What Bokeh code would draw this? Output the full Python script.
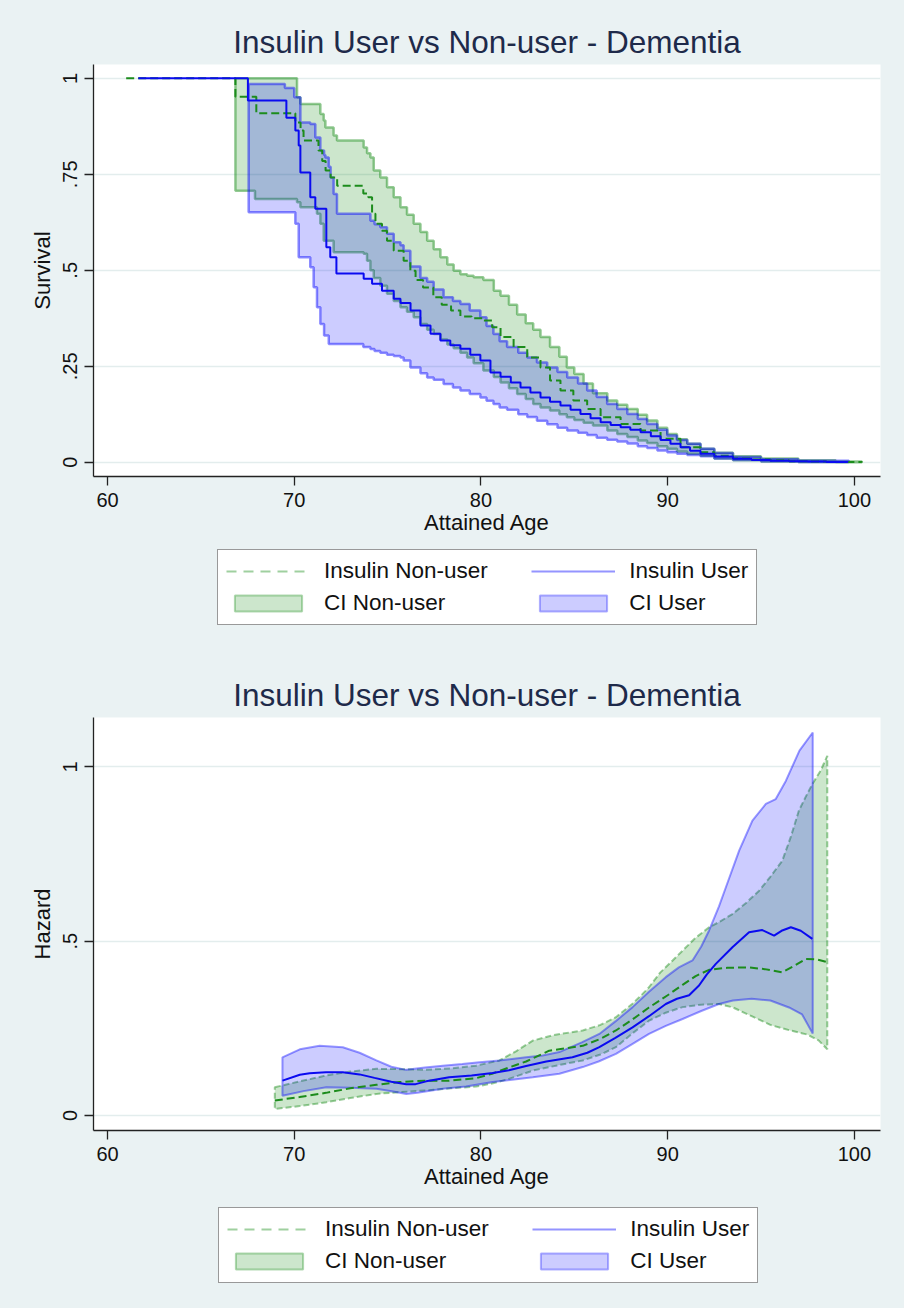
import math
from bokeh.plotting import figure
from bokeh.models import Range1d, FixedTicker, Legend, LegendItem
from bokeh.layouts import column
from bokeh.embed import file_html
from bokeh.resources import INLINE

# ---------------- Data: Kaplan-Meier survival (top panel) ----------------
km_user_age = [61.65, 67.52, 69.58, 70.06, 70.24, 70.33, 70.86, 71.13, 71.72, 71.93, 72.26,
               73.72, 74.17, 74.7, 75.33, 75.69, 76.23, 76.76, 77.3, 77.83, 78.36, 78.9,
               79.43, 79.97, 80.51, 81.05, 81.6, 82.12, 82.65, 83.19, 83.7, 84.26, 84.8,
               85.33, 85.87, 86.41, 86.95, 87.48, 88.0, 88.55, 89.1, 89.62, 90.15, 90.69,
               91.2, 91.76, 92.5, 93.5, 94.5, 95.5, 96.5, 97.5, 98.5, 99.65]
km_user_surv = [1.0, 0.942, 0.897, 0.864, 0.825, 0.755, 0.69, 0.66, 0.56, 0.534, 0.492,
                0.478, 0.465, 0.447, 0.426, 0.415, 0.395, 0.356, 0.335, 0.317, 0.305, 0.296,
                0.28, 0.265, 0.234, 0.223, 0.208, 0.195, 0.182, 0.169, 0.158, 0.148, 0.137,
                0.126, 0.115, 0.104, 0.097, 0.091, 0.085, 0.078, 0.068, 0.058, 0.048, 0.039,
                0.03, 0.022, 0.015, 0.009, 0.006, 0.004, 0.003, 0.002, 0.001, 0.0]

km_non_age = [61.0, 66.85, 67.97, 70.06, 70.34, 70.5, 71.3, 71.5, 71.68, 71.95, 72.3,
              73.7, 73.97, 74.17, 74.35, 74.7, 74.97, 75.33, 75.86, 76.22, 76.5, 76.9,
              77.45, 77.9, 78.4, 78.9, 79.5, 80.1, 80.6, 81.05, 81.75, 82.48, 83.19, 83.7,
              84.26, 84.95, 85.69, 86.41, 87.48, 88.55, 89.62, 90.69, 91.76, 92.5, 93.5,
              94.5, 95.5, 96.5, 97.5, 98.5, 99.5, 100.4]
km_non_surv = [1.0, 0.952, 0.909, 0.885, 0.864, 0.838, 0.812, 0.785, 0.76, 0.742, 0.72,
               0.70, 0.69, 0.647, 0.621, 0.603, 0.577, 0.551, 0.525, 0.499, 0.475, 0.455,
               0.43, 0.41, 0.395, 0.38, 0.375, 0.369, 0.352, 0.326, 0.30, 0.273, 0.247, 0.213,
               0.187, 0.161, 0.139, 0.117, 0.10, 0.083, 0.061, 0.039, 0.026, 0.017, 0.01,
               0.007, 0.005, 0.003, 0.002, 0.001, 0.0005, 0.0]

ci_non_age = [66.85, 67.9, 70.15, 70.33, 71.22, 71.4, 71.58, 71.67, 72.11, 72.29, 73.72,
              73.9, 74.08, 74.26, 74.61, 74.97, 75.33, 75.69, 76.04, 76.4, 76.76, 77.12,
              77.47, 77.83, 78.2, 78.54, 78.9, 79.26, 79.61, 80.13, 80.69, 81.05, 81.5,
              81.94, 82.4, 82.8, 83.19, 83.7, 84.2, 84.6, 85.0, 85.5, 86.0, 86.77, 87.3,
              87.84, 88.4, 88.9, 89.45, 89.98, 90.5, 91.05, 91.76, 92.5, 93.5, 95.0, 97.0,
              99.0, 100.4]
ci_non_upper = [1.0, 1.0, 0.951, 0.933, 0.933, 0.907, 0.89, 0.872, 0.851, 0.838, 0.82,
                0.805, 0.794, 0.76, 0.742, 0.716, 0.69, 0.664, 0.645, 0.621, 0.600, 0.577,
                0.555, 0.534, 0.515, 0.499, 0.49, 0.486, 0.482, 0.475, 0.447, 0.434, 0.41,
                0.385, 0.362, 0.345, 0.326, 0.30, 0.275, 0.247, 0.23, 0.205, 0.18, 0.161,
                0.15, 0.139, 0.124, 0.109, 0.09, 0.074, 0.06, 0.048, 0.035, 0.025, 0.016,
                0.01, 0.005, 0.002, 0.001]
ci_non_lower = [0.707, 0.686, 0.677, 0.664, 0.647, 0.621, 0.577, 0.577, 0.547, 0.547, 0.543,
                0.525, 0.50, 0.48, 0.46, 0.439, 0.42, 0.404, 0.392, 0.378, 0.36, 0.345,
                0.334, 0.32, 0.307, 0.297, 0.285, 0.273, 0.258, 0.239, 0.222, 0.208, 0.193,
                0.178, 0.165, 0.152, 0.143, 0.135, 0.125, 0.117, 0.11, 0.103, 0.096, 0.083,
                0.074, 0.066, 0.057, 0.05, 0.042, 0.035, 0.028, 0.022, 0.017, 0.01, 0.005,
                0.002, 0.0005, 0.0, 0.0]

ci_user_age = [67.56, 69.5, 69.79, 70.0, 70.06, 70.24, 70.33, 70.86, 71.04, 71.13, 71.22,
               71.4, 71.6, 71.67, 71.85, 71.95, 72.11, 72.29, 73.7, 74.08, 74.3, 74.61,
               74.97, 75.33, 75.69, 75.86, 76.22, 76.76, 77.12, 77.47, 78.0, 78.5, 78.9,
               79.4, 79.97, 80.3, 80.67, 81.0, 81.4, 82.0, 82.48, 83.0, 83.55, 84.1, 84.62,
               85.2, 85.69, 86.2, 86.76, 87.3, 87.84, 88.4, 88.9, 89.45, 89.98, 90.5, 91.05,
               91.76, 92.5, 93.5, 95.0, 97.0, 99.7]
ci_user_upper = [0.985, 0.975, 0.975, 0.951, 0.951, 0.951, 0.885, 0.881, 0.881, 0.846, 0.846,
                 0.812, 0.80, 0.794, 0.77, 0.742, 0.699, 0.647, 0.647, 0.629, 0.62, 0.612,
                 0.595, 0.573, 0.565, 0.551, 0.51, 0.48, 0.47, 0.45, 0.43, 0.42, 0.412,
                 0.395, 0.378, 0.355, 0.334, 0.315, 0.30, 0.285, 0.273, 0.26, 0.247, 0.235,
                 0.221, 0.205, 0.187, 0.17, 0.152, 0.139, 0.126, 0.113, 0.10, 0.085, 0.07,
                 0.058, 0.048, 0.035, 0.024, 0.014, 0.008, 0.004, 0.001]
ci_user_lower = [0.651, 0.651, 0.651, 0.651, 0.621, 0.534, 0.534, 0.508, 0.456, 0.456, 0.404,
                 0.36, 0.33, 0.33, 0.308, 0.308, 0.308, 0.308, 0.30, 0.295, 0.29, 0.285,
                 0.28, 0.277, 0.273, 0.265, 0.247, 0.232, 0.221, 0.215, 0.204, 0.195, 0.187,
                 0.178, 0.169, 0.16, 0.152, 0.143, 0.137, 0.125, 0.118, 0.108, 0.099, 0.09,
                 0.083, 0.077, 0.071, 0.064, 0.059, 0.054, 0.049, 0.042, 0.037, 0.031, 0.026,
                 0.022, 0.019, 0.016, 0.01, 0.006, 0.003, 0.001, 0.0]

# ---------------- Data: smoothed hazard (bottom panel) ----------------
hz_non_age = [68.96, 70.29, 71.7, 73.0, 74.4, 75.64, 77.0, 78.3, 79.74, 80.6, 81.88, 82.42,
              83.66, 85.45, 86.4, 87.23, 88.1, 89.0, 90.0, 90.8, 91.5, 92.22, 93.2, 94.36,
              95.2, 96.14, 96.8, 97.39, 98.0, 98.55]
hz_non = [0.043, 0.053, 0.065, 0.078, 0.088, 0.096, 0.10, 0.10, 0.107, 0.12, 0.145, 0.155,
          0.186, 0.20, 0.22, 0.244, 0.275, 0.31, 0.345, 0.375, 0.40, 0.418, 0.424, 0.425,
          0.42, 0.411, 0.43, 0.449, 0.448, 0.44]

hz_user_age = [69.37, 70.3, 70.83, 71.7, 72.6, 73.5, 74.3, 75.2, 76.0, 76.5, 77.07, 78.3,
               79.5, 80.63, 81.5, 82.42, 83.5, 84.9, 85.7, 86.34, 87.2, 88.12, 89.0, 89.9,
               90.5, 91.15, 91.68, 92.1, 92.58, 93.47, 94.36, 95.07, 95.7, 96.1, 96.6, 97.13,
               97.75]
hz_user = [0.10, 0.117, 0.121, 0.124, 0.124, 0.118, 0.108, 0.097, 0.09, 0.09, 0.098, 0.11,
           0.115, 0.122, 0.13, 0.142, 0.155, 0.167, 0.18, 0.196, 0.223, 0.253, 0.285, 0.32,
           0.335, 0.345, 0.373, 0.405, 0.435, 0.483, 0.526, 0.532, 0.516, 0.53, 0.54, 0.53,
           0.507]

hzci_non_up_age = [68.96, 70.3, 71.72, 73.0, 74.4, 75.7, 77.07, 78.4, 79.74, 80.99, 81.9,
                   82.78, 84.0, 85.45, 86.4, 87.23, 88.1, 88.66, 89.0, 89.6, 90.27, 90.8,
                   91.5, 92.22, 92.75, 93.47, 94.2, 94.9, 95.5, 96.14, 96.6, 97.03, 97.4,
                   97.75, 98.2, 98.55]
hzci_non_up = [0.081, 0.098, 0.115, 0.126, 0.134, 0.133, 0.131, 0.135, 0.143, 0.158, 0.185,
               0.215, 0.232, 0.244, 0.26, 0.282, 0.32, 0.349, 0.368, 0.41, 0.445, 0.473,
               0.51, 0.54, 0.555, 0.578, 0.61, 0.645, 0.685, 0.731, 0.80, 0.875, 0.915,
               0.951, 0.99, 1.032]
hzci_non_lo_age = [68.96, 70.3, 71.72, 73.0, 74.4, 75.64, 77.07, 78.4, 79.74, 80.6, 81.5,
                   82.78, 84.2, 85.45, 86.4, 87.23, 88.1, 89.0, 89.9, 90.8, 91.8, 92.75,
                   93.5, 94.5, 95.5, 96.5, 97.5, 98.1, 98.55]
hzci_non_lo = [0.019, 0.027, 0.038, 0.05, 0.062, 0.067, 0.072, 0.078, 0.083, 0.092, 0.105,
               0.129, 0.145, 0.158, 0.175, 0.196, 0.235, 0.272, 0.295, 0.311, 0.318, 0.32,
               0.31, 0.285, 0.26, 0.245, 0.232, 0.215, 0.19]

hzci_user_up_age = [69.37, 70.3, 71.36, 72.6, 73.5, 74.4, 75.2, 76.0, 77.0, 77.96, 79.0,
                    79.92, 80.99, 82.42, 83.3, 84.2, 85.4, 86.34, 87.2, 88.12, 89.0, 89.9,
                    90.6, 91.33, 91.8, 92.22, 92.75, 93.12, 93.83, 94.54, 95.26, 95.79,
                    96.33, 97.06, 97.77]
hzci_user_up = [0.167, 0.19, 0.20, 0.196, 0.18, 0.158, 0.14, 0.131, 0.138, 0.143, 0.148,
                0.153, 0.158, 0.167, 0.172, 0.182, 0.21, 0.234, 0.27, 0.311, 0.355, 0.397,
                0.425, 0.445, 0.485, 0.531, 0.60, 0.655, 0.76, 0.846, 0.894, 0.908, 0.96,
                1.047, 1.099]
hzci_user_lo_age = [69.37, 70.5, 71.72, 73.0, 74.4, 75.3, 76.0, 76.6, 77.96, 79.2, 80.63,
                    82.0, 82.78, 84.2, 85.45, 86.3, 87.23, 88.1, 89.0, 89.9, 90.8, 91.8,
                    92.75, 93.5, 94.5, 95.5, 96.5, 97.2, 97.77]
hzci_user_lo = [0.057, 0.07, 0.081, 0.08, 0.077, 0.069, 0.062, 0.065, 0.077, 0.083, 0.096,
                0.105, 0.11, 0.12, 0.139, 0.155, 0.177, 0.205, 0.234, 0.257, 0.277, 0.30,
                0.32, 0.33, 0.335, 0.33, 0.31, 0.29, 0.235]

x_ticks = [60, 70, 80, 90, 100]
surv_ticks = [0, 0.25, 0.5, 0.75, 1]
surv_tick_labels = ["0", ".25", ".5", ".75", "1"]
haz_ticks = [0, 0.5, 1]
haz_tick_labels = ["0", ".5", "1"]

TITLE = "Insulin User vs Non-user - Dementia"
LABELS = ["Insulin Non-user", "Insulin User", "CI Non-user", "CI User"]

# ---------------- helpers ----------------
BG = "#eaf2f3"
FONT = "Liberation Sans"
GREEN = "#008000"
BLUE = "#0000ff"
GREEN_LINE = "#1c8c1c"
BLUE_LINE = "#0a0af0"
NAN = float("nan")


def step_xy(xs, ys):
    sx, sy = [], []
    for i in range(len(xs)):
        if i > 0:
            sx.append(xs[i])
            sy.append(ys[i - 1])
        sx.append(xs[i])
        sy.append(ys[i])
    return sx, sy


def step_band(xs, lo, hi):
    ux, uy = step_xy(xs, hi)
    lx, ly = step_xy(xs, lo)
    return ux + lx[::-1], uy + ly[::-1]


def smooth_band(xu, hi, xl, lo):
    return list(xu) + list(xl[::-1]), list(hi) + list(lo[::-1])


def make_fig(ylabel, yticks, ylabels, yrange, height, top, bottom):
    p = figure(width=904, height=height,
               x_range=Range1d(59.25, 101.4), y_range=Range1d(*yrange),
               output_backend="svg", toolbar_location=None,
               min_border_left=93, min_border_right=24,
               min_border_top=top, min_border_bottom=bottom, title=TITLE)
    p.background_fill_color = "white"
    p.border_fill_color = BG
    p.outline_line_color = None
    p.title.align = "center"
    p.title.text_font = FONT
    p.title.text_font_size = "31.5px"
    p.title.text_font_style = "normal"
    p.title.text_color = "#1e2a4a"
    p.xgrid.visible = False
    p.ygrid.ticker = FixedTicker(ticks=yticks)
    p.ygrid.grid_line_color = "#e3eded"
    p.ygrid.grid_line_width = 1.5
    p.xaxis.ticker = FixedTicker(ticks=x_ticks)
    p.yaxis.ticker = FixedTicker(ticks=yticks)
    p.yaxis.major_label_overrides = {t: l for t, l in zip(yticks, ylabels)}
    p.yaxis.major_label_orientation = "vertical"
    p.xaxis.axis_label = "Attained Age"
    p.yaxis.axis_label = ylabel
    for ax in (p.xaxis[0], p.yaxis[0]):
        ax.axis_line_color = "#222222"
        ax.axis_line_width = 1.3
        ax.major_tick_line_color = "#222222"
        ax.major_tick_line_width = 1.3
        ax.major_tick_out = 9
        ax.major_tick_in = 0
        ax.minor_tick_line_color = None
        ax.major_label_text_font = FONT
        ax.major_label_text_font_size = "20px"
        ax.major_label_text_color = "#111111"
        ax.axis_label_text_font = FONT
        ax.axis_label_text_font_size = "22px"
        ax.axis_label_text_font_style = "normal"
        ax.axis_label_text_color = "#111111"
        ax.major_label_standoff = 7
        ax.axis_label_standoff = 0
    p.yaxis[0].axis_label_standoff = 6
    return p


def legend_fig(height, loc):
    f = figure(width=904, height=height, x_range=Range1d(0, 1), y_range=Range1d(0, 1),
               output_backend="svg", toolbar_location=None, min_border=0,
               x_axis_type=None, y_axis_type=None)
    f.background_fill_color = BG
    f.border_fill_color = BG
    f.outline_line_color = None
    dg = f.line(x=[NAN, NAN], y=[NAN, NAN], line_color="#9fd09f", line_width=2,
                line_dash="10 7")
    db = f.line(x=[NAN, NAN], y=[NAN, NAN], line_color="#9494ff", line_width=2)
    bg = f.patch(x=[NAN, NAN, NAN], y=[NAN, NAN, NAN], fill_color=GREEN, fill_alpha=0.2,
                 line_color=GREEN, line_alpha=0.3, line_width=2)
    bb = f.patch(x=[NAN, NAN, NAN], y=[NAN, NAN, NAN], fill_color=BLUE, fill_alpha=0.2,
                 line_color=BLUE, line_alpha=0.3, line_width=2)
    pad = "\u00a0" * 6
    leg = Legend(items=[LegendItem(label=LABELS[0] + pad, renderers=[dg]),
                        LegendItem(label=LABELS[2], renderers=[bg]),
                        LegendItem(label=LABELS[1], renderers=[db]),
                        LegendItem(label=LABELS[3], renderers=[bb])],
                 orientation="vertical", nrows=2, location=loc)
    leg.border_line_color = "#333333"
    leg.border_line_width = 1.3
    leg.background_fill_color = "white"
    leg.background_fill_alpha = 1.0
    leg.label_text_font = FONT
    leg.label_text_font_size = "22.5px"
    leg.label_text_color = "#111111"
    leg.glyph_width = 84
    leg.glyph_height = 20
    leg.label_standoff = 14
    leg.padding = 8
    leg.spacing = 6
    leg.margin = 0
    f.add_layout(leg, "center")
    return f


# ---------------- top panel: survival ----------------
p1 = make_fig("Survival", surv_ticks, surv_tick_labels, (-0.037, 1.036), 545, 64, 69)
gx, gy = step_band(ci_non_age, ci_non_lower, ci_non_upper)
p1.patch(gx, gy, fill_color=GREEN, fill_alpha=0.2,
         line_color=GREEN, line_alpha=0.42, line_width=2.5)
bx, by = step_band(ci_user_age, ci_user_lower, ci_user_upper)
p1.patch(bx, by, fill_color=BLUE, fill_alpha=0.2,
         line_color=BLUE, line_alpha=0.45, line_width=2.5)
p1.step(km_non_age, km_non_surv, mode="after", line_color=GREEN_LINE,
        line_width=2, line_dash="8 4")
p1.step(km_user_age, km_user_surv, mode="after", line_color=BLUE_LINE, line_width=2)
leg1 = legend_fig(105, (124, 25))

# ---------------- bottom panel: hazard ----------------
p2 = make_fig("Hazard", haz_ticks, haz_tick_labels, (-0.043, 1.142), 550, 67, 70)
gx2, gy2 = smooth_band(hzci_non_up_age, hzci_non_up, hzci_non_lo_age, hzci_non_lo)
p2.patch(gx2, gy2, fill_color=GREEN, fill_alpha=0.2,
         line_color=GREEN, line_alpha=0.4, line_width=2, line_dash="6 3")
bx2, by2 = smooth_band(hzci_user_up_age, hzci_user_up, hzci_user_lo_age, hzci_user_lo)
p2.patch(bx2, by2, fill_color=BLUE, fill_alpha=0.2,
         line_color=BLUE, line_alpha=0.4, line_width=2)
p2.line(hz_non_age, hz_non, line_color=GREEN_LINE, line_width=2, line_dash="8 4")
p2.line(hz_user_age, hz_user, line_color=BLUE_LINE, line_width=2)
leg2 = legend_fig(108, (125, 25))

layout = column(p1, leg1, p2, leg2, spacing=0, styles={"background-color": BG})
open("out.html", "w").write(file_html(layout, INLINE))
